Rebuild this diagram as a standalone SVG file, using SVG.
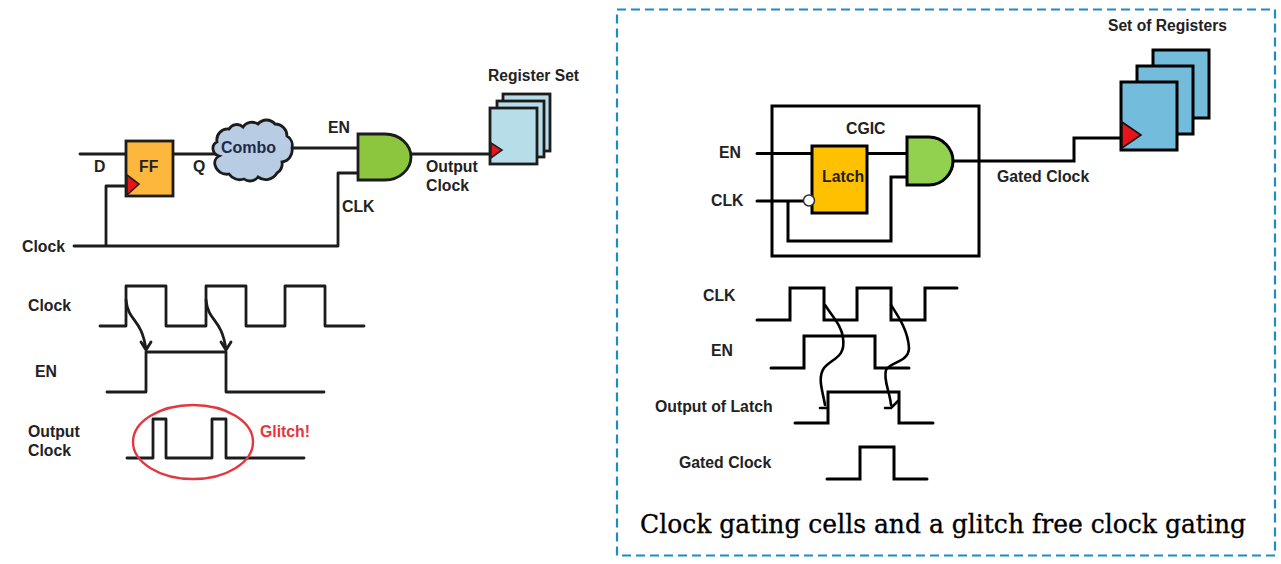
<svg xmlns="http://www.w3.org/2000/svg" width="1281" height="564" viewBox="0 0 1281 564">
<style>
text{font-family:"Liberation Sans",Arial,sans-serif;font-weight:700;font-size:15.800px;fill:#222}
.w{fill:none;stroke:#1c1c1c;stroke-width:2.800;stroke-linejoin:round;stroke-linecap:round}
.wr{fill:none;stroke:#000;stroke-width:3;stroke-linejoin:miter;stroke-linecap:round}
.b{stroke:#1c1c1c;stroke-width:2.800;stroke-linejoin:miter}
.br{stroke:#000;stroke-width:3;stroke-linejoin:miter}
.tri{fill:#e8141c;stroke:#222;stroke-width:1.600}
</style>
<rect width="1281" height="564" fill="#fff"/>
<rect id="frame" x="617" y="9.500" width="658" height="546" fill="none" stroke="#1e8bc9" stroke-width="2.200" stroke-dasharray="9 5"/>

<g id="connectors">
<path class="w" d="M80 154H126M173 154H214M292 148H358M74 246H338V173H358M106 246V186H126M411 154H490"/>
<path class="wr" d="M757 153.500H812M867 153.500H907M757 201H805M788 201V241H891V177H907M953 161H1074V138H1121"/>
</g>

<g id="ff"><rect class="b" x="126" y="141" width="47" height="55" fill="#fdb73c"/>
<path class="tri" d="M127 175L139 184L127 195Z"/><text x="139" y="172">FF</text></g>
<g id="combo"><path class="b" fill="#b8cce4" d="M217 142A11 11 0 0 1 229 129A9 9 0 0 1 243 127A11 11 0 0 1 258 124A11 11 0 0 1 275 124A12 12 0 0 1 287 136A11 11 0 0 1 292 148A12 12 0 0 1 282 162A11 11 0 0 1 277 173A13 13 0 0 1 258 177A10 10 0 0 1 244 179A13 13 0 0 1 229 174A12 12 0 0 1 215 165A8 8 0 0 1 219 156A8 8 0 0 1 213 149A7 7 0 0 1 217 142Z"/>
<text x="221" y="153" style="font-size:16px;fill:#1f2a4a">Combo</text></g>
<g id="and1"><path class="b" fill="#8cc63f" d="M358 134H385C400 134 411 145 411 157C411 169 400 180 385 180H358Z"/></g>
<g id="regset"><rect class="b" x="503" y="94" width="47" height="57" fill="#b7dde8"/><rect class="b" x="497" y="101" width="47" height="56" fill="#b7dde8"/><rect class="b" x="490" y="108" width="47" height="56" fill="#b7dde8"/>
<path class="tri" d="M491 143L502 150L491 158Z"/><text x="488" y="81" textLength="91" lengthAdjust="spacingAndGlyphs">Register Set</text></g>

<g id="labels-left">
<text x="94" y="172">D</text><text x="193" y="172">Q</text><text x="22" y="252">Clock</text>
<text x="328" y="133">EN</text><text x="342" y="212">CLK</text>
<text x="426" y="172">Output</text><text x="426" y="191">Clock</text>
</g>

<g id="timing-left">
<path class="w" d="M100 326H126V286H166V326H206V286H246V326H285V286H325V326H364"/>
<path class="w" d="M126 300C128 322 142 318 146 350M141 342L146 350L151 342M206 300C208 322 222 318 226 350M221 342L226 350L231 342"/>
<path class="w" d="M107 392H146V352H226V392H324"/>
<path class="w" d="M127 458H153V419H166V458H212V419H226V458H304"/>
<ellipse cx="193" cy="442" rx="60" ry="37" fill="none" stroke="#e03a40" stroke-width="2.400"/>
<text x="28" y="311">Clock</text><text x="35" y="377">EN</text><text x="28" y="437">Output</text><text x="28" y="456">Clock</text>
<text x="260" y="437" style="fill:#e8353d">Glitch!</text>
</g>

<g id="cgic"><rect class="br" x="772" y="106" width="207" height="150" fill="none"/><text x="846" y="134">CGIC</text></g>
<g id="latch"><rect class="br" x="812" y="146" width="55" height="67" fill="#ffc000"/><text x="822" y="182">Latch</text>
<circle cx="809" cy="200.500" r="5.500" fill="#fff" stroke="#333" stroke-width="1.500"/></g>
<g id="and2"><path class="br" fill="#92d050" d="M907 137H929C943 137 953 149 953 161C953 173 943 185 929 185H907Z"/></g>
<g id="regs"><rect class="br" x="1153" y="50" width="56" height="68" fill="#74bcdc"/><rect class="br" x="1137" y="66" width="56" height="68" fill="#74bcdc"/><rect class="br" x="1121" y="82" width="56" height="68" fill="#74bcdc"/>
<path fill="#e8141c" stroke="#111" stroke-width="1.600" d="M1122 122L1141 135L1122 148Z"/><text x="1108" y="31" textLength="119" lengthAdjust="spacingAndGlyphs">Set of Registers</text></g>

<g id="labels-right">
<text x="719" y="158">EN</text><text x="711" y="206">CLK</text><text x="997" y="182">Gated Clock</text>
</g>

<g id="timing-right">
<path class="wr" d="M757 320H790V288H824V320H857V288H891V320H925V288H957"/>
<path class="wr" d="M771 368H804V336H875V368H909"/>
<path class="wr" d="M795 423H828V392H899V423H933"/>
<path class="wr" d="M827 479H860V447H894V479H927"/>
<path fill="none" stroke="#000" stroke-width="2.600" stroke-linecap="round" d="M825 305C832 316 842 326 843 338C846 358 832 358 824 368C817 378 823 392 825 405M820 408H827M891 305C898 316 908 330 909 348C909 362 890 362 886 370C883 380 890 392 891 405M885 408H891L898 401"/>
<text x="703" y="301">CLK</text><text x="711" y="356">EN</text><text x="655" y="412">Output of Latch</text><text x="679" y="468">Gated Clock</text>
</g>

<text id="caption" x="640" y="533" textLength="606" lengthAdjust="spacingAndGlyphs" style="font-family:'DejaVu Serif',serif;font-weight:400;font-size:26px;fill:#000;stroke:#000;stroke-width:0.350">Clock gating cells and a glitch free clock gating</text>
</svg>
